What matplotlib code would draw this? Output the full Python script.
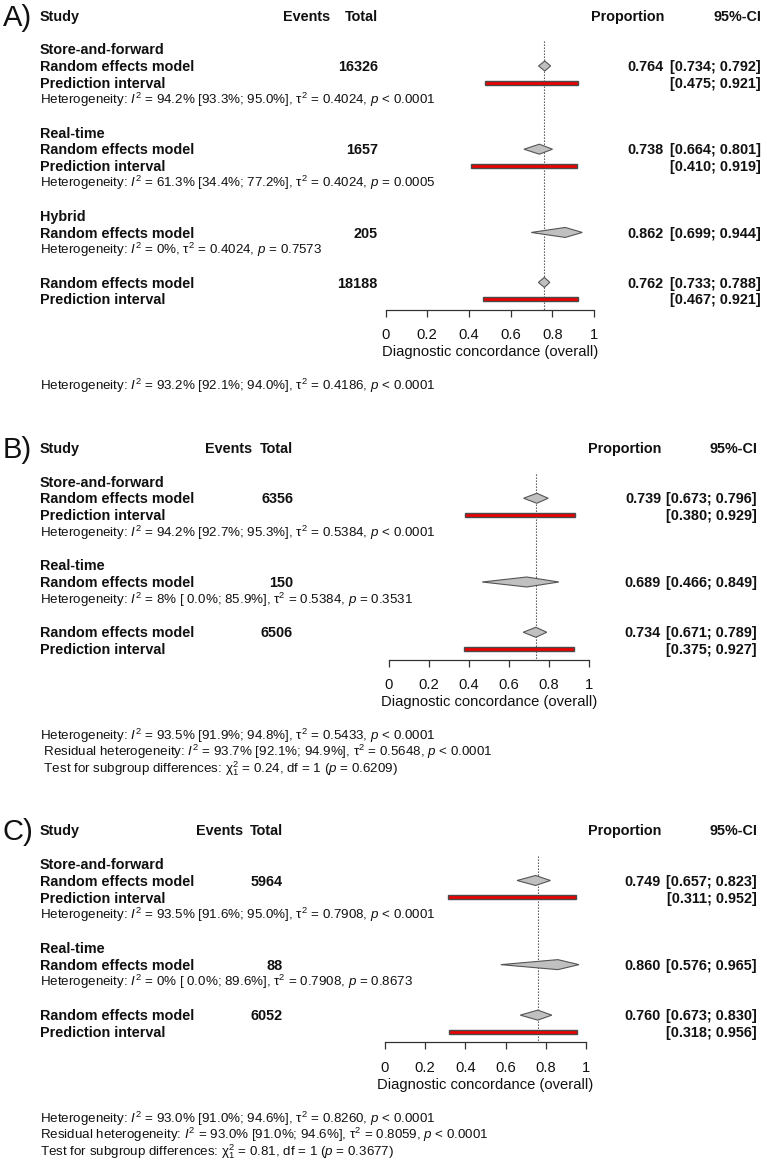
import matplotlib
matplotlib.use('Agg')
import matplotlib.pyplot as plt
from matplotlib.patches import Polygon, Rectangle

plt.rcParams['font.family'] = ['Liberation Sans', 'DejaVu Sans']
plt.rcParams['mathtext.fontset'] = 'custom'
plt.rcParams['mathtext.rm'] = 'Liberation Sans'
plt.rcParams['mathtext.it'] = 'Liberation Sans:italic'
plt.rcParams['mathtext.bf'] = 'Liberation Sans:bold'

W, H = 767, 1164
FS_B = 10.4      # bold row labels
FS_R = 9.6       # heterogeneity lines
FS_T = 10.6      # axis ticks / label

# ---- A) all modalities
a_groups = ['Store-and-forward', 'Real-time', 'Hybrid']
a_total = [16326, 1657, 205]
a_est = [0.764, 0.738, 0.862]
a_lo = [0.734, 0.664, 0.699]
a_hi = [0.792, 0.801, 0.944]
a_pi = [(0.475, 0.921), (0.410, 0.919), None]
a_het = ['Heterogeneity: $I^2$ = 94.2% [93.3%; 95.0%], \u03c4$^2$ = 0.4024, $p$ < 0.0001',
         'Heterogeneity: $I^2$ = 61.3% [34.4%; 77.2%], \u03c4$^2$ = 0.4024, $p$ = 0.0005',
         'Heterogeneity: $I^2$ = 0%, \u03c4$^2$ = 0.4024, $p$ = 0.7573']
a_all = (18188, 0.762, 0.733, 0.788)
a_all_pi = (0.467, 0.921)
a_foot = ['Heterogeneity: $I^2$ = 93.2% [92.1%; 94.0%], \u03c4$^2$ = 0.4186, $p$ < 0.0001']

# ---- B)
b_groups = ['Store-and-forward', 'Real-time']
b_total = [6356, 150]
b_est = [0.739, 0.689]
b_lo = [0.673, 0.466]
b_hi = [0.796, 0.849]
b_pi = [(0.380, 0.929), None]
b_het = ['Heterogeneity: $I^2$ = 94.2% [92.7%; 95.3%], \u03c4$^2$ = 0.5384, $p$ < 0.0001',
         'Heterogeneity: $I^2$ = 8% [ 0.0%; 85.9%], \u03c4$^2$ = 0.5384, $p$ = 0.3531']
b_all = (6506, 0.734, 0.671, 0.789)
b_all_pi = (0.375, 0.927)
b_foot = ['Heterogeneity: $I^2$ = 93.5% [91.9%; 94.8%], \u03c4$^2$ = 0.5433, $p$ < 0.0001',
          ' Residual heterogeneity: $I^2$ = 93.7% [92.1%; 94.9%], \u03c4$^2$ = 0.5648, $p$ < 0.0001',
          ' Test for subgroup differences: \u03c7$^2_1$ = 0.24, df = 1 ($p$ = 0.6209)']

# ---- C)
c_groups = ['Store-and-forward', 'Real-time']
c_total = [5964, 88]
c_est = [0.749, 0.860]
c_lo = [0.657, 0.576]
c_hi = [0.823, 0.965]
c_pi = [(0.311, 0.952), None]
c_het = ['Heterogeneity: $I^2$ = 93.5% [91.6%; 95.0%], \u03c4$^2$ = 0.7908, $p$ < 0.0001',
         'Heterogeneity: $I^2$ = 0% [ 0.0%; 89.6%], \u03c4$^2$ = 0.7908, $p$ = 0.8673']
c_all = (6052, 0.760, 0.673, 0.830)
c_all_pi = (0.318, 0.956)
c_foot = ['Heterogeneity: $I^2$ = 93.0% [91.0%; 94.6%], \u03c4$^2$ = 0.8260, $p$ < 0.0001',
          'Residual heterogeneity: $I^2$ = 93.0% [91.0%; 94.6%], \u03c4$^2$ = 0.8059, $p$ < 0.0001',
          'Test for subgroup differences: \u03c7$^2_1$ = 0.81, df = 1 ($p$ = 0.3677)']

xticks = [0, 0.2, 0.4, 0.6, 0.8, 1]
xticklabels = ['0', '0.2', '0.4', '0.6', '0.8', '1']

fig = plt.figure(figsize=(W / 100, H / 100), dpi=100)
bg = fig.add_axes([0, 0, 1, 1])
bg.set_xlim(0, W)
bg.set_ylim(H, 0)
bg.axis('off')


def put(x, y, s, fs, bold=False, ha='left'):
    # y is the visual middle of the caps, in pixels
    px = fs * 100 / 72
    bg.text(x, y + 0.36 * px, s, fontsize=fs, ha=ha, va='baseline',
            weight='bold' if bold else 'normal', color='#111111')


def forest(letter, groups, total, est, lo, hi, pi, het, allv, all_pi, foot,
           top, step, x0, x1, ev_x, tot_x, prop_x, ci_x):
    y = lambda k: top + k * step
    put(3, y(0) - 1, letter, 21)
    put(40, y(0), 'Study', FS_B, True)
    put(ev_x, y(0), 'Events', FS_B, True, 'right')
    put(tot_x, y(0), 'Total', FS_B, True, 'right')
    put(prop_x, y(0), 'Proportion', FS_B, True, 'right')
    put(ci_x, y(0), '95%-CI', FS_B, True, 'right')

    diamonds = []
    bars = []
    k = 2
    for i, g in enumerate(groups):
        put(40, y(k), g, FS_B, True)
        k += 1
        put(40, y(k), 'Random effects model', FS_B, True)
        put(tot_x, y(k), str(total[i]), FS_B, True, 'right')
        put(prop_x, y(k), '%.3f' % est[i], FS_B, True, 'right')
        put(ci_x, y(k), '[%.3f; %.3f]' % (lo[i], hi[i]), FS_B, True, 'right')
        diamonds.append((y(k), est[i], lo[i], hi[i]))
        k += 1
        if pi[i] is not None:
            put(40, y(k), 'Prediction interval', FS_B, True)
            put(ci_x, y(k), '[%.3f; %.3f]' % pi[i], FS_B, True, 'right')
            bars.append((y(k), pi[i][0], pi[i][1]))
            k += 1
        put(40, y(k), het[i], FS_R)
        k += 2

    put(40, y(k), 'Random effects model', FS_B, True)
    put(tot_x, y(k), str(allv[0]), FS_B, True, 'right')
    put(prop_x, y(k), '%.3f' % allv[1], FS_B, True, 'right')
    put(ci_x, y(k), '[%.3f; %.3f]' % (allv[2], allv[3]), FS_B, True, 'right')
    diamonds.append((y(k), allv[1], allv[2], allv[3]))
    k += 1
    put(40, y(k), 'Prediction interval', FS_B, True)
    put(ci_x, y(k), '[%.3f; %.3f]' % all_pi, FS_B, True, 'right')
    bars.append((y(k), all_pi[0], all_pi[1]))

    axis_y = y(k) + 10.5
    ytop = y(2) - 8
    fa = fig.add_axes([x0 / W, 1 - axis_y / H, (x1 - x0) / W, (axis_y - ytop) / H])
    fa.set_xlim(0, 1)
    fa.set_ylim(axis_y, ytop)
    fa.patch.set_visible(False)
    for s in ['left', 'right', 'top']:
        fa.spines[s].set_visible(False)
    fa.spines['bottom'].set_color('#333333')
    fa.spines['bottom'].set_linewidth(0.9)
    fa.set_yticks([])
    fa.set_xticks(xticks)
    fa.set_xticklabels(xticklabels)
    fa.tick_params(axis='x', direction='out', length=5, width=0.9, color='#333333',
                   labelsize=FS_T, pad=8.5, labelcolor='#111111')
    fa.set_xlabel('Diagnostic concordance (overall)', fontsize=FS_T, labelpad=2.0,
                  color='#111111')

    fa.vlines(allv[1], ytop, axis_y, colors='#444444', linewidth=0.8,
              linestyles=(0, (1.2, 1.5)))
    for yy, e, l, h in diamonds:
        fa.add_patch(Polygon([(l, yy), (e, yy - 5), (h, yy), (e, yy + 5)], closed=True,
                             facecolor='#c0c0c0', edgecolor='#555555', linewidth=0.8,
                             clip_on=False, zorder=3))
    for yy, l, h in bars:
        fa.add_patch(Rectangle((l, yy - 2), h - l, 4, facecolor='#ee0000',
                               edgecolor='#4a4a4a', linewidth=1.0, clip_on=False, zorder=3))

    for j, s in enumerate(foot):
        put(40, axis_y + 76 + 16 * j, s, FS_R)


forest('A)', a_groups, a_total, a_est, a_lo, a_hi, a_pi, a_het, a_all, a_all_pi, a_foot,
       top=16, step=16.65, x0=385.5, x1=594, ev_x=330, tot_x=378, prop_x=664, ci_x=761)
forest('B)', b_groups, b_total, b_est, b_lo, b_hi, b_pi, b_het, b_all, b_all_pi, b_foot,
       top=448, step=16.75, x0=389, x1=589, ev_x=252, tot_x=293, prop_x=661, ci_x=757)
forest('C)', c_groups, c_total, c_est, c_lo, c_hi, c_pi, c_het, c_all, c_all_pi, c_foot,
       top=830, step=16.83, x0=385, x1=586, ev_x=243, tot_x=283, prop_x=661, ci_x=757)

fig.savefig('out.png', dpi=100)
